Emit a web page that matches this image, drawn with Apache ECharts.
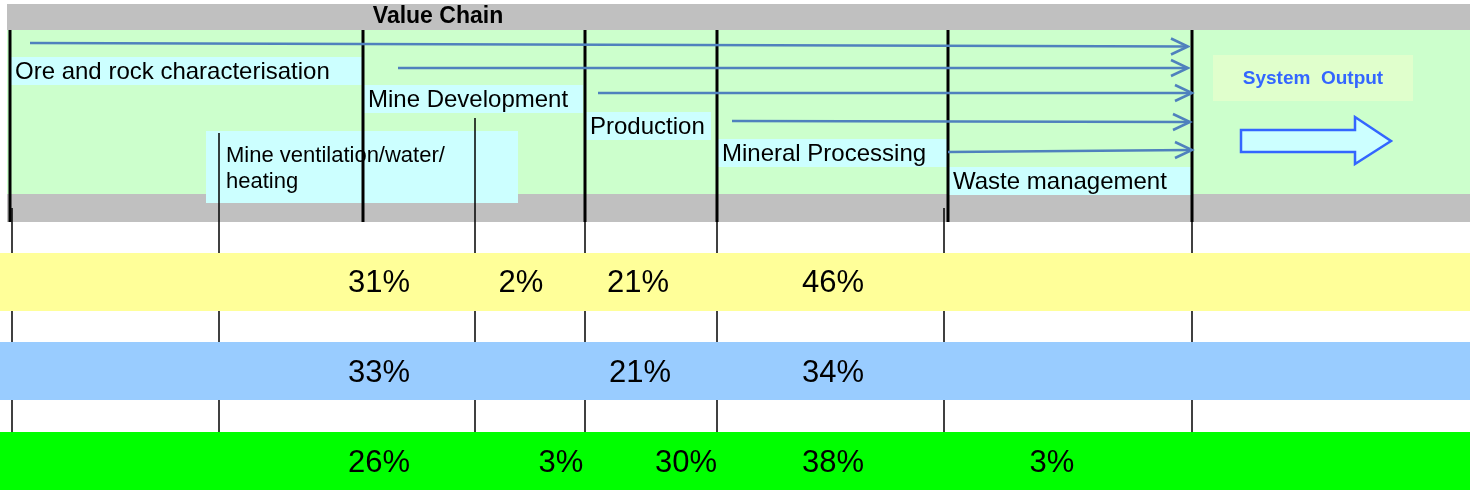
<!DOCTYPE html>
<html>
<head>
<meta charset="utf-8">
<script src="https://cdn.jsdelivr.net/npm/echarts@6/dist/echarts.min.js"></script>
<style>
  html, body { margin: 0; padding: 0; background: #fff; }
  #chart { width: 1470px; height: 490px; }
</style>
</head>
<body>
<div id="chart"></div>
<script>
// --- content ---
var title = 'Value Chain'
var stages = ['Ore and rock characterisation', 'Mine Development', 'Production', 'Mineral Processing', 'Waste management']
var ventLabel = ['Mine ventilation/water/', 'heating']
var outputLabel = 'System  Output'
var rowYellow = [31, 2, 21, 46]
var rowBlue = [33, 21, 34]
var rowGreen = [26, 3, 30, 38, 3]

// --- layout (diagram units, same as px) ---
var stageLeft = [10, 363, 585, 717, 948]
var stageRight = [362, 583, 711, 948, 1192]
var stageTop = [57, 85, 112, 139, 167]
var arrowStart = [30, 398, 598, 732, 948]
var arrowStartY = [43, 68, 93, 121, 152]
var arrowEnd = [1188, 1188, 1192, 1190, 1192]
var arrowEndY = [46.5, 68, 93, 122, 150]
var thickX = [10, 363, 585, 717, 948, 1192]
var thinLines = [[12, 208], [219, 133], [475, 118], [585, 208], [717, 208], [944, 208], [1192, 222]]
var rowTop = [253, 342, 432]
var rowCenter = [283, 373, 463]
var yellowX = [379, 521, 638, 833]
var blueX = [379, 640, 833]
var greenX = [379, 561, 686, 833, 1052]

var FONT = '"Liberation Sans", Arial, Helvetica, sans-serif'
var chart = echarts.init(document.getElementById('chart'), null, { renderer: 'canvas' })

function rectSeries(name, rects, color, z) {
  return {
    type: 'custom', name: name, coordinateSystem: 'cartesian2d', z: z, silent: true,
    data: rects,
    renderItem: function (params, api) {
      var p0 = api.coord([api.value(0), api.value(1)])
      var p1 = api.coord([api.value(2), api.value(3)])
      return { type: 'rect', shape: { x: p0[0], y: p0[1], width: p1[0] - p0[0], height: p1[1] - p0[1] }, style: { fill: color } }
    }
  }
}

function vLineSeries(name, lines, width, z) {
  return {
    type: 'custom', name: name, coordinateSystem: 'cartesian2d', z: z, silent: true,
    data: lines,
    renderItem: function (params, api) {
      var p0 = api.coord([api.value(0), api.value(1)])
      var p1 = api.coord([api.value(0), api.value(2)])
      return { type: 'line', shape: { x1: p0[0], y1: p0[1], x2: p1[0], y2: p1[1] }, style: { stroke: '#000', lineWidth: width } }
    }
  }
}

function textSeries(name, items, font, color, align, z) {
  return {
    type: 'custom', name: name, coordinateSystem: 'cartesian2d', z: z, silent: true,
    data: items.map(function (d) { return [d[0], d[1]] }),
    renderItem: function (params, api) {
      var p = api.coord([api.value(0), api.value(1)])
      return { type: 'text', x: p[0], y: p[1], style: { text: items[params.dataIndex][2], font: font, fill: color, align: align, verticalAlign: 'middle' } }
    }
  }
}

function pctSeries(name, xs, vals, row) {
  return textSeries(name, vals.map(function (v, i) { return [xs[i], rowCenter[row], v + '%'] }),
    '31px ' + FONT, '#000', 'center', 20)
}

var stageBoxes = stages.map(function (s, i) { return [stageLeft[i], stageTop[i], stageRight[i], stageTop[i] + 28] })
stageBoxes.push([206, 131, 518, 203])
var rowRects = rowTop.map(function (t) { return [0, t, 1470, t + 58] })

var option = {
  animation: false,
  grid: { left: 0, right: 0, top: 0, bottom: 0 },
  xAxis: { type: 'value', min: 0, max: 1470, show: false },
  yAxis: { type: 'value', min: 0, max: 490, inverse: true, show: false },
  series: [
    rectSeries('gray', [[7, 4, 1470, 30], [7, 194, 1470, 222]], '#C0C0C0', 1),
    rectSeries('green', [[7, 30, 1470, 194]], '#CCFFCC', 1),
    rectSeries('boxes', stageBoxes, '#CCFFFF', 2),
    rectSeries('outputBox', [[1213, 55, 1413, 101]], '#E0FFCC', 2),
    vLineSeries('thin', thinLines.map(function (l) { return [l[0], l[1], 490] }), 1.5, 3),
    vLineSeries('thick', thickX.map(function (x) { return [x, 30, 222] }), 3, 4),
    rectSeries('yellow', [rowRects[0]], '#FFFF99', 5),
    rectSeries('blue', [rowRects[1]], '#99CCFF', 5),
    rectSeries('lime', [rowRects[2]], '#00FF00', 5),
    {
      type: 'custom', name: 'arrows', coordinateSystem: 'cartesian2d', z: 6, silent: true,
      data: arrowStart.map(function (x, i) { return [x, arrowStartY[i], arrowEnd[i], arrowEndY[i]] }),
      renderItem: function (params, api) {
        var a = api.coord([api.value(0), api.value(1)])
        var b = api.coord([api.value(2), api.value(3)])
        var st = { stroke: '#4F81BD', lineWidth: 2.5, fill: null }
        return {
          type: 'group', children: [
            { type: 'line', shape: { x1: a[0], y1: a[1], x2: b[0] - 1, y2: b[1] }, style: st },
            { type: 'polyline', shape: { points: [[b[0] - 17, b[1] - 8], [b[0], b[1]], [b[0] - 17, b[1] + 8]] }, style: st }
          ]
        }
      }
    },
    {
      type: 'custom', name: 'blockArrow', coordinateSystem: 'cartesian2d', z: 6, silent: true,
      data: [[1241, 141]],
      renderItem: function (params, api) {
        var pts = [[0, -11], [114, -11], [114, -24], [150, 0], [114, 23], [114, 11], [0, 11]].map(function (d) {
          return api.coord([api.value(0) + d[0], api.value(1) + d[1]])
        })
        return { type: 'polygon', shape: { points: pts }, style: { fill: '#CCFFFF', stroke: '#3366FF', lineWidth: 2.5 } }
      }
    },
    textSeries('title', [[438, 17, title]], 'bold 23px ' + FONT, '#000', 'center', 7),
    textSeries('stages', stages.map(function (s, i) { return [stageLeft[i] + 5, stageTop[i] + 15, s] }), '24px ' + FONT, '#000', 'left', 7),
    textSeries('vent', [[226, 156, ventLabel[0]], [226, 182, ventLabel[1]]], '22px ' + FONT, '#000', 'left', 7),
    textSeries('output', [[1313, 79, outputLabel]], 'bold 19px ' + FONT, '#3366FF', 'center', 7),
    pctSeries('pctYellow', yellowX, rowYellow, 0),
    pctSeries('pctBlue', blueX, rowBlue, 1),
    pctSeries('pctGreen', greenX, rowGreen, 2)
  ]
}
chart.setOption(option)
</script>
</body>
</html>
